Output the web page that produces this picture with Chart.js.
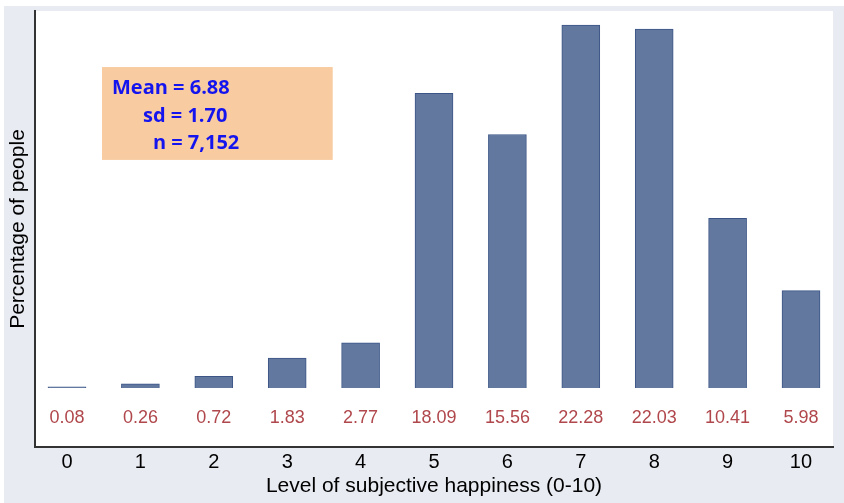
<!DOCTYPE html>
<html>
<head>
<meta charset="utf-8">
<script src="https://cdn.jsdelivr.net/npm/chart.js@4.4.1/dist/chart.umd.min.js"></script>
<style>
  body { margin: 0; background: #fff; }
  canvas { display: block; }
</style>
</head>
<body>
<canvas id="myChart" width="844" height="503"></canvas>
<script>
// happiness levels and share of people at each level (%)
const levels = [0, 1, 2, 3, 4, 5, 6, 7, 8, 9, 10];
const percents = [0.08, 0.26, 0.72, 1.83, 2.77, 18.09, 15.56, 22.28, 22.03, 10.41, 5.98];
const statLines = ['Mean = 6.88', 'sd = 1.70', 'n = 7,152'];

const ctx = document.getElementById('myChart');

const background = {
  id: 'background',
  beforeDraw: (chart) => {
    const {ctx, chartArea} = chart;
    ctx.save();
    ctx.fillStyle = '#fff';
    ctx.fillRect(0, 0, chart.width, chart.height);
    ctx.fillStyle = '#e8ebf2';
    ctx.fillRect(4, 6, chart.width - 4, chart.height - 6);
    ctx.fillStyle = '#fff';
    ctx.fillRect(chartArea.left, chartArea.top, chartArea.right - chartArea.left, chartArea.bottom - chartArea.top);
    ctx.restore();
  }
};

// the orange stats box
const statsBox = {
  id: 'statsBox',
  beforeDatasetsDraw: (chart) => {
    const {ctx} = chart;
    const x = chart.scales.x, y = chart.scales.y;
    const x0 = x.getPixelForValue(0.477), x1 = x.getPixelForValue(3.62);
    const y0 = y.getPixelForValue(19.7), y1 = y.getPixelForValue(14.0);
    ctx.save();
    ctx.fillStyle = '#f9cba0';
    ctx.fillRect(x0, y0, x1 - x0, y1 - y0);
    ctx.fillStyle = '#1414ee';
    ctx.font = 'bold 20px "Open Sans"';
    ctx.textBaseline = 'middle';
    const xs = [0.613, 1.035, 1.17];
    const ys = [18.42, 16.70, 15.04];
    statLines.forEach((t, i) => {
      ctx.fillText(t, x.getPixelForValue(xs[i]), y.getPixelForValue(ys[i]));
    });
    ctx.restore();
  }
};

// value labels under each bar
const valueLabels = {
  id: 'valueLabels',
  afterDatasetsDraw: (chart) => {
    const {ctx} = chart;
    const x = chart.scales.x, y = chart.scales.y;
    ctx.save();
    ctx.fillStyle = '#b0474c';
    ctx.font = '18px "Liberation Sans", Arial, sans-serif';
    ctx.textAlign = 'center';
    ctx.textBaseline = 'middle';
    levels.forEach((lv, i) => {
      ctx.fillText(percents[i].toFixed(2), x.getPixelForValue(lv), y.getPixelForValue(-1.84));
    });
    ctx.restore();
  }
};

new Chart(ctx, {
  type: 'bar',
  data: {
    datasets: [{
      data: levels.map((lv, i) => ({x: lv, y: percents[i]})),
      backgroundColor: '#62789f',
      borderColor: '#3b5586',
      borderWidth: 1,
      barThickness: 38
    }]
  },
  options: {
    responsive: false,
    animation: false,
    layout: { padding: { top: 11, right: 11, left: 0, bottom: 0 } },
    plugins: {
      legend: { display: false },
      tooltip: { enabled: false }
    },
    scales: {
      x: {
        type: 'linear',
        offset: false,
        min: -0.436,
        max: 10.436,
        afterBuildTicks: (s) => { s.ticks = levels.map(v => ({value: v})); },
        afterFit: (s) => { s.height = 56; },
        grid: { display: false, drawTicks: false },
        border: { display: true, color: '#333', width: 2 },
        ticks: {
          color: '#000',
          padding: 3,
          font: { family: '"Liberation Sans", Arial, sans-serif', size: 20 }
        },
        title: {
          display: true,
          text: 'Level of subjective happiness (0-10)',
          color: '#000',
          padding: { top: 0, bottom: 4 },
          font: { family: '"Liberation Sans", Arial, sans-serif', size: 21 }
        }
      },
      y: {
        min: -3.62,
        max: 23.14,
        afterFit: (s) => { s.width = 35; },
        grid: { display: false, drawTicks: false },
        border: { display: true, color: '#333', width: 2 },
        ticks: { display: false },
        title: {
          display: true,
          text: 'Percentage of people',
          color: '#000',
          padding: { top: 6, bottom: 0 },
          font: { family: '"Liberation Sans", Arial, sans-serif', size: 21 }
        }
      }
    }
  },
  plugins: [background, statsBox, valueLabels]
});
</script>
</body>
</html>
